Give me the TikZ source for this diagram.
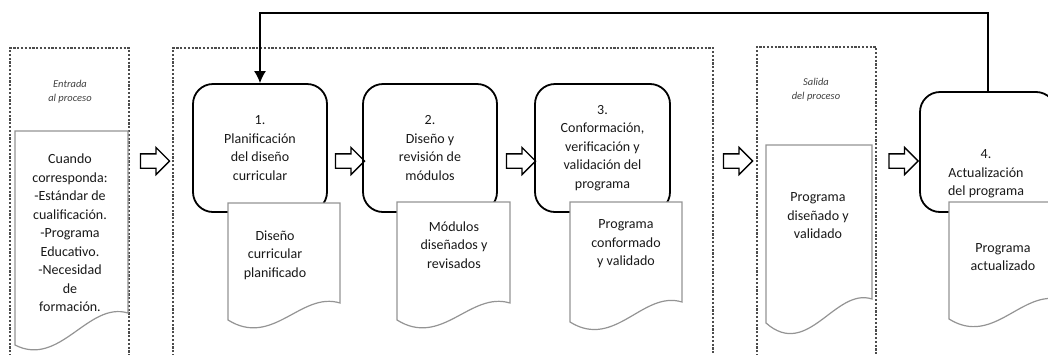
\documentclass[tikz,border=0pt]{standalone}
\usepackage{fontspec}
\setmainfont{Carlito}
\usepackage{tikz}
\usetikzlibrary{shapes.arrows}
\usetikzlibrary{arrows.meta}

\begin{document}
\begin{tikzpicture}[x=1pt, y=-1pt,
		zone/.style={draw=black!70, line width=1.3pt, dash pattern=on 2.2pt off 1.6pt},
		procbox/.style={draw, rounded corners=20pt, line width=1.8pt, minimum width=134pt, minimum height=128pt, align=center, text=black!90, font=\fontsize{14}{18.5}\selectfont},
		proctext/.style={align=center, text=black!90, font=\fontsize{14}{18.5}\selectfont},
		docpage/.style={draw=black!42, line width=1.2pt, fill=white},
		zonetext/.style={align=center, text=black!75, font=\fontsize{10.5}{14}\selectfont\itshape},
		nextarrow/.style={single arrow, draw, line width=1.3pt, minimum height=29pt, minimum width=26pt, inner xsep=0pt, inner ysep=6.5pt, single arrow head extend=6.5pt}]
		      \useasboundingbox (0,0) rectangle (1048,354);

		      \draw[zone] (10,360) -- (10,48) -- (129,48) -- (129,360);
		      \draw[zone] (173,360) -- (173,48) -- (713,48) -- (713,360);
		      \draw[zone] (757,360) -- (757,47) -- (876,47) -- (876,360);

		      \node[zonetext] (entrada) at (70,92) {Entrada\\al proceso};
		      \node[zonetext] (salida) at (816,90) {Salida\\del proceso};

		      \node[procbox] (plan) at (260,148) {1.\\Planificación\\del diseño\\curricular};
		      \node[procbox] (mod) at (430,148) {2.\\Diseño y\\revisión de\\módulos};
		      \node[procbox, minimum width=135pt] (conf) at (602.5,148) {3.\\Conformación,\\verificación y\\validación del\\programa};
		      \node[procbox, minimum width=136pt, minimum height=120pt] (act) at (988,152) {};
		      \node[proctext] (actT) at (986,174) {4.\\Actualización\\del programa};

		      \draw[docpage] (15,131) -- (128,131) -- (128,313) .. controls (88,301) and (60,368) .. (15,345) -- cycle;
		      \draw[docpage] (228,203) -- (340,203) -- (340,303) .. controls (301,291) and (273,348) .. (228,320) -- cycle;
		      \draw[docpage] (397,202) -- (510,202) -- (510,303) .. controls (470,291) and (442,348) .. (397,320) -- cycle;
		      \draw[docpage] (570,202) -- (682,202) -- (682,302) .. controls (643,290) and (615,350) .. (570,322) -- cycle;
		      \draw[docpage] (766,145) -- (872,145) -- (872,299) .. controls (835,287) and (808,360) .. (766,323) -- cycle;
		      \draw[docpage] (949,202) -- (1062,202) -- (1062,300) .. controls (1022,288) and (994,347) .. (949,319) -- cycle;

		      \node[proctext] (inT) at (70,233) {Cuando\\corresponda:\\-Estándar de\\cualificación.\\-Programa\\Educativo.\\-Necesidad\\de\\formación.};
		      \node[proctext] (planT) at (275,255) {Diseño\\curricular\\planificado};
		      \node[proctext] (modT) at (454,245) {Módulos\\diseñados y\\revisados};
		      \node[proctext] (confT) at (626,244) {Programa\\conformado\\y validado};
		      \node[proctext] (outT) at (818,216) {Programa\\diseñado y\\validado};
		      \node[proctext] (actD) at (1003,257) {Programa\\actualizado};

		      \node[nextarrow] (arr1) at (151.5,161) {};
		      \node[nextarrow] (arr2) at (346.5,161) {};
		      \node[nextarrow] (arr3) at (517.5,161) {};
		      \node[nextarrow] (arr4) at (734.5,161) {};
		      \node[nextarrow] (arr5) at (900,161) {};

		      \coordinate (back) at (600,13);
		      \draw[-{Latex[length=12pt,width=12pt]}, line width=1.5pt] (act.north) |- (back) -| (plan.north);
	      \end{tikzpicture}
\end{document}
